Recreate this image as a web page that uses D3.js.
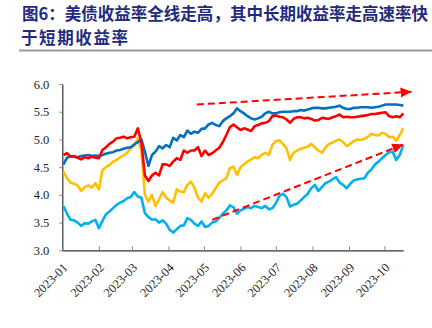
<!DOCTYPE html>
<html>
<head>
<meta charset="utf-8">
<script src="https://cdn.jsdelivr.net/npm/d3@7"></script>
<style>
  html, body { margin: 0; padding: 0; background: #ffffff; }
  svg { display: block; }
</style>
</head>
<body>
<div id="chart"></div>
<script>
// ---------- DATA ----------
const titleLines = ["图6：美债收益率全线走高，其中长期收益率走高速率快", "于短期收益率"];

const dates = [
  "01-02","01-05","01-08","01-11","01-14","01-17","01-20","01-23","01-26","01-29",
  "02-01","02-04","02-07","02-10","02-13","02-16","02-19","02-22","02-25","02-28",
  "03-03","03-06","03-09","03-12","03-15","03-18","03-21","03-24","03-27","03-30",
  "04-02","04-05","04-08","04-11","04-14","04-17","04-20","04-23","04-26","04-29",
  "05-02","05-05","05-08","05-11","05-14","05-17","05-20","05-23","05-26","05-29",
  "06-01","06-04","06-07","06-10","06-13","06-16","06-19","06-22","06-25","06-28",
  "07-01","07-04","07-07","07-10","07-13","07-16","07-19","07-22","07-25","07-28",
  "07-31","08-03","08-06","08-09","08-12","08-15","08-18","08-21","08-24","08-27",
  "08-30","09-02","09-05","09-08","09-11","09-14","09-17","09-20","09-23","09-26",
  "09-29","10-02","10-05","10-08","10-11","10-14","10-17"
];

const seriesDarkBlue = [
  4.55,4.67,4.70,4.69,4.68,4.70,4.71,4.72,4.70,4.71,
  4.70,4.72,4.74,4.76,4.77,4.80,4.81,4.83,4.85,4.86,
  4.91,4.95,5.00,4.78,4.52,4.72,4.78,4.88,4.84,4.90,
  4.86,5.03,4.98,5.08,5.04,5.16,5.10,5.14,5.12,5.19,
  5.20,5.27,5.30,5.26,5.24,5.33,5.38,5.42,5.47,5.56,
  5.51,5.47,5.42,5.38,5.36,5.38,5.41,5.47,5.50,5.47,
  5.47,5.49,5.50,5.50,5.50,5.51,5.51,5.53,5.52,5.54,
  5.56,5.57,5.57,5.56,5.56,5.57,5.58,5.59,5.61,5.57,
  5.55,5.55,5.57,5.57,5.58,5.58,5.58,5.57,5.58,5.59,
  5.61,5.63,5.63,5.63,5.63,5.62,5.61
];

const seriesRed = [
  4.72,4.75,4.69,4.70,4.67,4.64,4.68,4.66,4.69,4.67,
  4.66,4.81,4.86,4.92,4.96,5.02,5.03,5.05,5.02,5.04,
  5.05,5.20,4.95,4.35,4.25,4.35,4.40,4.35,4.55,4.55,
  4.52,4.60,4.66,4.63,4.80,4.76,4.80,4.80,4.86,4.70,
  4.80,4.72,4.75,4.80,4.85,4.95,5.08,5.22,5.27,5.22,
  5.17,5.20,5.18,5.15,5.24,5.26,5.29,5.30,5.33,5.42,
  5.43,5.41,5.40,5.36,5.30,5.37,5.40,5.40,5.38,5.39,
  5.37,5.34,5.35,5.39,5.38,5.37,5.40,5.42,5.45,5.40,
  5.41,5.40,5.40,5.41,5.42,5.43,5.44,5.46,5.46,5.47,
  5.48,5.49,5.42,5.40,5.42,5.40,5.47
];

const seriesYellow = [
  4.42,4.30,4.22,4.20,4.17,4.07,4.14,4.17,4.13,4.21,
  4.10,4.45,4.50,4.54,4.60,4.63,4.68,4.71,4.76,4.84,
  4.89,5.02,4.80,4.00,3.88,4.00,3.80,3.92,4.05,3.95,
  3.90,3.86,4.10,4.06,4.05,4.18,4.24,4.13,3.95,3.88,
  4.03,3.95,4.02,4.12,4.22,4.26,4.30,4.48,4.51,4.36,
  4.50,4.55,4.60,4.64,4.68,4.66,4.72,4.76,4.72,4.90,
  4.97,4.98,4.92,4.84,4.63,4.76,4.80,4.83,4.85,4.87,
  4.92,4.86,4.80,4.76,4.85,4.92,4.94,4.98,5.00,4.95,
  4.88,4.92,4.97,5.00,4.99,5.01,5.05,5.10,5.08,5.07,
  5.12,5.10,5.04,5.05,4.98,5.08,5.20
];

const seriesLightBlue = [
  3.80,3.66,3.55,3.54,3.50,3.44,3.49,3.48,3.52,3.55,
  3.40,3.53,3.65,3.70,3.76,3.82,3.86,3.89,3.94,3.96,
  4.05,3.97,3.95,3.67,3.60,3.55,3.56,3.50,3.54,3.48,
  3.37,3.32,3.38,3.44,3.45,3.58,3.55,3.48,3.44,3.52,
  3.42,3.44,3.50,3.52,3.58,3.66,3.72,3.81,3.78,3.66,
  3.72,3.75,3.78,3.76,3.80,3.78,3.76,3.80,3.74,3.76,
  3.85,3.98,4.02,3.96,3.79,3.82,3.84,3.90,3.96,4.02,
  4.12,4.18,4.07,4.14,4.21,4.24,4.28,4.32,4.22,4.18,
  4.12,4.20,4.26,4.28,4.29,4.30,4.40,4.46,4.55,4.60,
  4.66,4.72,4.77,4.78,4.63,4.72,4.90
];

const yTickValues = [3.0, 3.5, 4.0, 4.5, 5.0, 5.5, 6.0];
const xTickLabels = ["2023-01","2023-02","2023-03","2023-04","2023-05","2023-06","2023-07","2023-08","2023-09","2023-10"];

// trend arrows (annotation), in data space: [date, value]
const arrowUpper = [["2023-04-25", 5.63], ["2023-10-24", 5.86]];
const arrowLower = [["2023-05-08", 3.55], ["2023-10-17", 4.91]];

// ---------- CHART ----------
const W = 432, H = 328;
const parse = d3.timeParse("%Y-%m-%d");
const parseMonth = d3.timeParse("%Y-%m");
const dateObjs = dates.map(d => parse("2023-" + d));

const svg = d3.select("#chart").append("svg")
  .attr("width", W).attr("height", H)
  .style("background", "#fff");

// title
const titleColor = "#1f2a80";
const tg = svg.append("g")
  .attr("font-family", "'Noto Sans CJK SC', 'Noto Sans', sans-serif")
  .attr("font-weight", "bold")
  .attr("font-size", 16.5)
  .attr("fill", titleColor);
tg.append("text").attr("x", 22).attr("y", 20)
  .attr("textLength", 406).attr("lengthAdjust", "spacing")
  .text(titleLines[0]);
tg.append("text").attr("x", 21).attr("y", 44)
  .attr("textLength", 107).attr("lengthAdjust", "spacing")
  .text(titleLines[1]);
svg.append("line")
  .attr("x1", 19).attr("x2", 432).attr("y1", 50.5).attr("y2", 50.5)
  .attr("stroke", "#999").attr("stroke-width", 2);

// scales
const x = d3.scaleTime()
  .domain([parse("2023-01-01"), parse("2023-10-17")])
  .range([62.3, 403.3]);
const y = d3.scaleLinear().domain([3, 6]).range([250.3, 84]);

const fontTick = "'Liberation Serif', 'Times New Roman', serif";

// y axis
const yAxis = svg.append("g")
  .attr("transform", "translate(62.3,0)")
  .call(d3.axisLeft(y).tickValues(yTickValues).tickFormat(d3.format(".1f"))
    .tickSizeInner(3).tickSizeOuter(0).tickPadding(10));
yAxis.select(".domain").attr("stroke", "#333").attr("stroke-width", 1.2);
yAxis.selectAll(".tick line").attr("stroke", "#888");
yAxis.selectAll(".tick text").attr("font-family", fontTick).attr("font-size", 12.5).attr("fill", "#222");

// x axis
const monthDates = xTickLabels.map(s => parseMonth(s));
const xAxis = svg.append("g")
  .attr("transform", "translate(0,250.3)")
  .call(d3.axisBottom(x).tickValues(monthDates).tickSizeInner(-4).tickSizeOuter(0).tickFormat(""));
xAxis.select(".domain").attr("stroke", "#333").attr("stroke-width", 1.2);
xAxis.selectAll(".tick line").attr("stroke", "#888");

svg.append("g").selectAll("text").data(xTickLabels).join("text")
  .attr("transform", (d, i) => `translate(${x(monthDates[i]) + 3},${250.3 + 15}) rotate(-45)`)
  .attr("text-anchor", "end")
  .attr("dy", "0.35em")
  .attr("font-family", fontTick).attr("font-size", 12.5).attr("fill", "#222")
  .text(d => d);

// lines
const series = [
  { vals: seriesLightBlue, color: "#00b0f0" },
  { vals: seriesYellow, color: "#ffc000" },
  { vals: seriesDarkBlue, color: "#0070c0" },
  { vals: seriesRed, color: "#ff0000" }
];
const line = d3.line().x(d => x(d[0])).y(d => y(d[1]));
svg.append("g").selectAll("path").data(series).join("path")
  .attr("d", s => line(dateObjs.map((d, i) => [d, s.vals[i]])))
  .attr("fill", "none")
  .attr("stroke", s => s.color)
  .attr("stroke-width", 2.6)
  .attr("stroke-linejoin", "round");

// arrows
const defs = svg.append("defs");
defs.append("marker")
  .attr("id", "arrowhead")
  .attr("markerUnits", "userSpaceOnUse")
  .attr("markerWidth", 12).attr("markerHeight", 12)
  .attr("viewBox", "0 0 12 12")
  .attr("refX", 11).attr("refY", 6)
  .attr("orient", "auto")
  .append("path").attr("d", "M0,1 L11,6 L0,11 Z").attr("fill", "#ff0000");

[arrowUpper, arrowLower].forEach(a => {
  const pts = a.map(p => [parse(p[0]), p[1]]);
  svg.append("path")
    .attr("d", line(pts))
    .attr("fill", "none")
    .attr("stroke", "#ff0000")
    .attr("stroke-width", 2)
    .attr("stroke-dasharray", "7,4")
    .attr("marker-end", "url(#arrowhead)");
});
</script>
</body>
</html>
